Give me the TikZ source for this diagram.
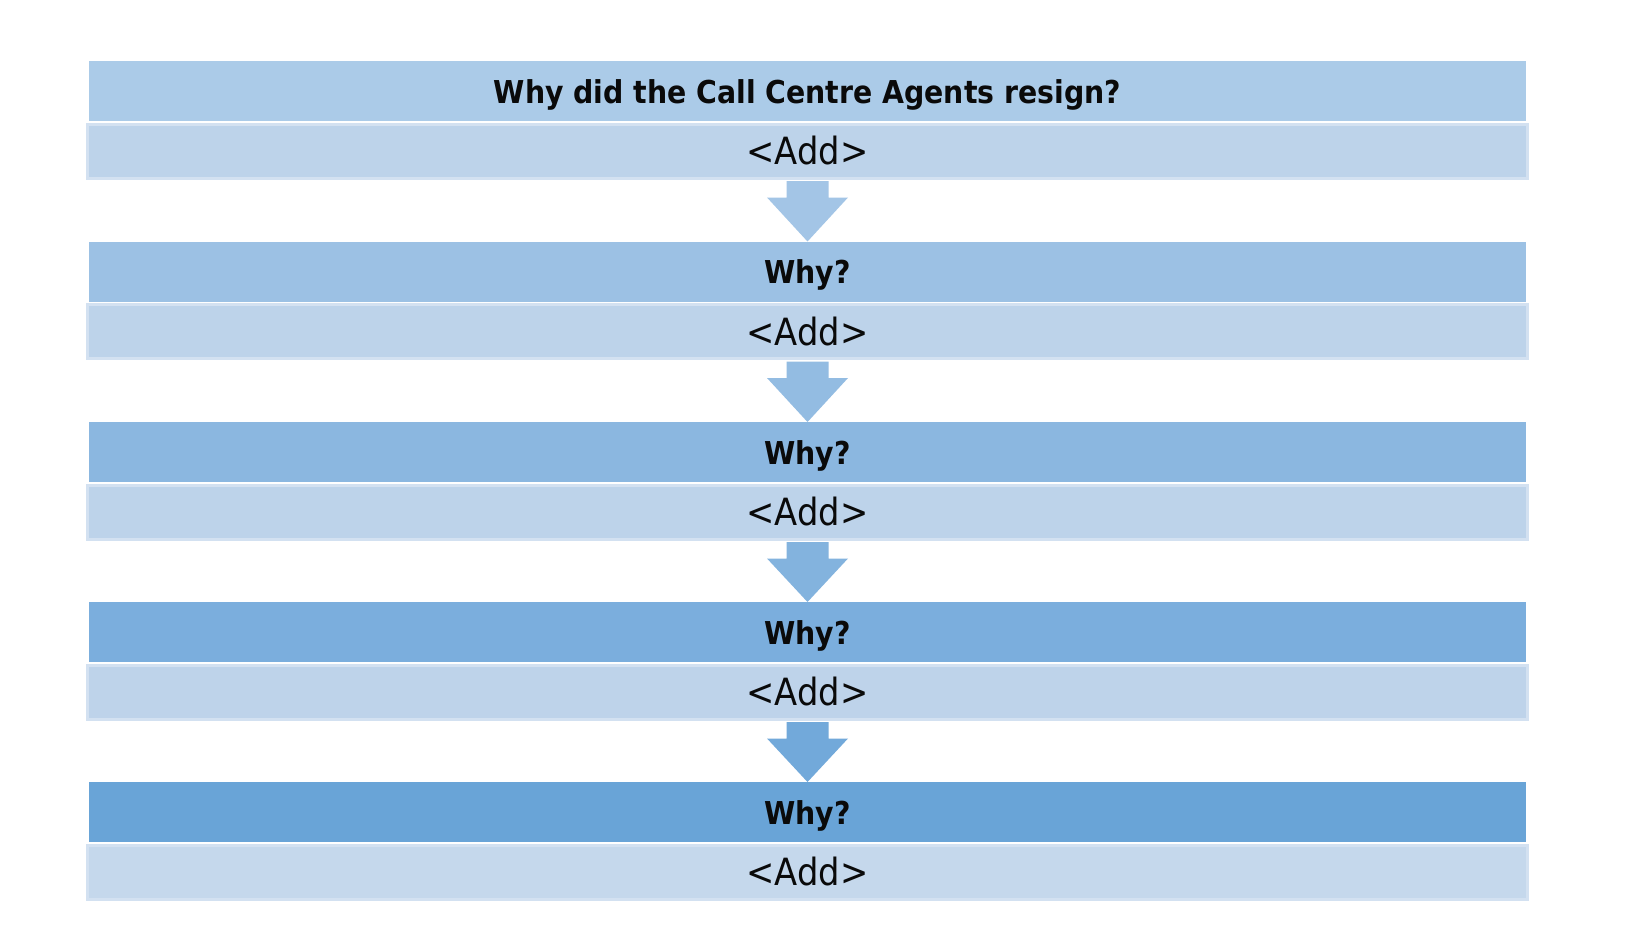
\documentclass[tikz,border=0pt]{standalone}
\usepackage{fontspec}
\setmainfont{DejaVu Sans Condensed}
\usetikzlibrary{calc}
\definecolor{hA}{HTML}{ABCBE8}
\definecolor{hB}{HTML}{9CC1E4}
\definecolor{hC}{HTML}{8BB7E0}
\definecolor{hD}{HTML}{7BAEDD}
\definecolor{hE}{HTML}{69A4D7}
\definecolor{aA}{HTML}{A3C5E6}
\definecolor{aB}{HTML}{93BCE2}
\definecolor{aC}{HTML}{83B3DE}
\definecolor{aD}{HTML}{72A9DA}
\definecolor{sA}{HTML}{BDD3EA}
\definecolor{sE}{HTML}{C5D8EC}
\definecolor{sborder}{HTML}{D3E1F1}
\definecolor{txt}{HTML}{0A0A0A}
\begin{document}
\begin{tikzpicture}[x=1pt,y=-1pt,
  hdr/.style={rectangle, inner sep=0pt, minimum width=1437pt, minimum height=60pt,
    anchor=north, text=txt, text depth=0pt, font=\fontsize{31.5}{34}\selectfont\bfseries},
  subbar/.style={rectangle, inner sep=0pt, draw=sborder, line width=3pt,
    minimum width=1440pt, minimum height=54pt, anchor=north, text=txt,
    font=\fontsize{37.5}{40}\selectfont},
  arrowshape/.style={draw=none}]
\useasboundingbox (0,0) rectangle (1630,950);
\fill[white] (0,0) rectangle (1630,950);
% rows
\node[hdr, fill=hA] (h1) at (807.5,61) {Why did the Call Centre Agents resign?};
\node[subbar, fill=sA] (s1) at (807.5,122.5) {<Add>};
\node[hdr, fill=hB] (h2) at (807.5,241.5) {Why?};
\node[subbar, fill=sA] (s2) at (807.5,303) {<Add>};
\node[hdr, fill=hC] (h3) at (807.5,422) {Why?};
\node[subbar, fill=sA] (s3) at (807.5,483.5) {<Add>};
\node[hdr, fill=hD] (h4) at (807.5,602) {Why?};
\node[subbar, fill=sA!90!sE] (s4) at (807.5,663.5) {<Add>};
\node[hdr, fill=hE] (h5) at (807.5,782) {Why?};
\node[subbar, fill=sE] (s5) at (807.5,843.5) {<Add>};
% arrows
\foreach \s/\h/\c in {s1/h2/aA, s2/h3/aB, s3/h4/aC, s4/h5/aD}{
  \fill[\c, arrowshape] ($(\s.south)+(-21,1.5)$) -- ($(\s.south)+(21,1.5)$)
    -- ($(\s.south)+(21,18)$) -- ($(\s.south)+(40.5,18)$) -- (\h.north)
    -- ($(\s.south)+(-40.5,18)$) -- ($(\s.south)+(-21,18)$) -- cycle;
}
\end{tikzpicture}
\end{document}
